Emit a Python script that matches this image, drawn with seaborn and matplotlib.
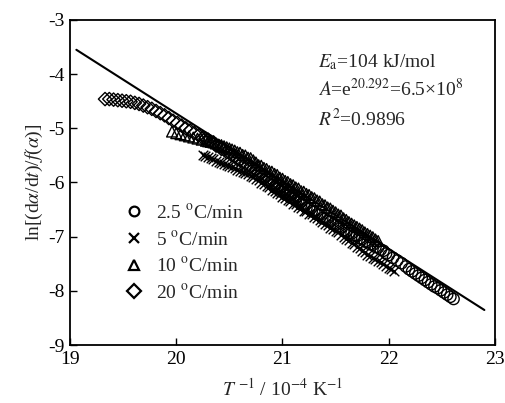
import matplotlib
matplotlib.use("Agg")
import matplotlib.pyplot as plt
import seaborn as sns
import numpy as np
import pandas as pd
from matplotlib.lines import Line2D

# Arrhenius-type fit results (values printed on the chart)
ln_A = 20.292
Ea = 104000.0  # J/mol
R_gas = 8.314
fit_x = [19.06, 22.90]

# 20 oC/min (diamonds)
x_20 = [19.33, 19.37, 19.41, 19.45, 19.49, 19.53, 19.57, 19.61, 19.65, 19.69,
        19.73, 19.77, 19.81, 19.85, 19.89, 19.93, 19.97, 20.01, 20.05, 20.09,
        20.13, 20.17, 20.21, 20.25,
        20.275, 20.300, 20.325, 20.350, 20.375, 20.400, 20.425, 20.450, 20.475, 20.500,
        20.525, 20.550, 20.575, 20.600, 20.625, 20.650, 20.675, 20.700, 20.725, 20.750,
        20.775, 20.800, 20.825, 20.850, 20.875, 20.900, 20.925, 20.950, 20.975, 21.000,
        21.025, 21.050, 21.075, 21.100, 21.125, 21.150, 21.175, 21.200]
y_20 = [-4.46, -4.46, -4.47, -4.48, -4.49, -4.50, -4.51, -4.53, -4.55, -4.58,
        -4.61, -4.64, -4.68, -4.72, -4.76, -4.81, -4.86, -4.90, -4.95, -5.00,
        -5.04, -5.09, -5.13, -5.18,
        -5.19, -5.21, -5.25, -5.26, -5.32, -5.33, -5.38, -5.39, -5.44, -5.45,
        -5.50, -5.51, -5.57, -5.58, -5.63, -5.64, -5.69, -5.70, -5.75, -5.76,
        -5.82, -5.83, -5.88, -5.89, -5.94, -5.95, -6.00, -6.01, -6.07, -6.08,
        -6.13, -6.14, -6.19, -6.20, -6.25, -6.26, -6.32, -6.33]

# 10 oC/min (triangles)
x_10 = [19.96, 20.00, 20.04, 20.08, 20.12, 20.16, 20.20, 20.24, 20.28,
        20.300, 20.325, 20.350, 20.375, 20.400, 20.425, 20.450, 20.475, 20.500, 20.525,
        20.550, 20.575, 20.600, 20.625, 20.650, 20.675, 20.700, 20.725, 20.750, 20.775,
        20.800, 20.825, 20.850, 20.875, 20.900, 20.925, 20.950, 20.975, 21.000, 21.025,
        21.050, 21.075, 21.100, 21.125, 21.150, 21.175, 21.200, 21.225, 21.250, 21.275,
        21.300, 21.325, 21.350, 21.375, 21.400, 21.425, 21.450, 21.475, 21.500, 21.525,
        21.550, 21.575, 21.600, 21.625, 21.650, 21.675, 21.700, 21.725, 21.750, 21.775,
        21.800, 21.825, 21.850, 21.875, 21.900]
y_10 = [-5.06, -5.09, -5.11, -5.13, -5.15, -5.17, -5.19, -5.21, -5.23,
        -5.24, -5.25, -5.26, -5.28, -5.30, -5.31, -5.33, -5.35, -5.37, -5.39,
        -5.41, -5.44, -5.45, -5.49, -5.50, -5.54, -5.55, -5.59, -5.63, -5.68,
        -5.69, -5.73, -5.75, -5.79, -5.80, -5.84, -5.86, -5.91, -5.93, -5.97,
        -5.99, -6.03, -6.05, -6.09, -6.11, -6.16, -6.17, -6.21, -6.23, -6.27,
        -6.29, -6.33, -6.35, -6.40, -6.42, -6.46, -6.48, -6.52, -6.55, -6.59,
        -6.61, -6.66, -6.69, -6.73, -6.76, -6.79, -6.82, -6.85, -6.88, -6.92,
        -6.95, -6.98, -7.01, -7.05, -7.08]

# 5 oC/min (crosses)
x_5 = [20.250, 20.275, 20.300, 20.325, 20.350, 20.375, 20.400, 20.425, 20.450, 20.475,
       20.500, 20.525, 20.550, 20.575, 20.600, 20.625, 20.650, 20.675, 20.700, 20.725,
       20.750, 20.775, 20.800, 20.825, 20.850, 20.875, 20.900, 20.925, 20.950, 20.975,
       21.000, 21.025, 21.050, 21.075, 21.100, 21.125, 21.150, 21.175, 21.200, 21.225,
       21.250, 21.275, 21.300, 21.325, 21.350, 21.375, 21.400, 21.425, 21.450, 21.475,
       21.500, 21.525, 21.550, 21.575, 21.600, 21.625, 21.650, 21.675, 21.700, 21.725,
       21.750, 21.775, 21.800, 21.825, 21.850, 21.875, 21.900, 21.925, 21.950, 21.975,
       22.000, 22.025, 22.050]
y_5 = [-5.49, -5.51, -5.53, -5.55, -5.57, -5.60, -5.62, -5.64, -5.66, -5.68,
       -5.70, -5.72, -5.74, -5.77, -5.79, -5.81, -5.83, -5.85, -5.88, -5.90,
       -5.94, -5.96, -6.01, -6.02, -6.07, -6.09, -6.14, -6.15, -6.20, -6.22,
       -6.27, -6.28, -6.33, -6.34, -6.39, -6.40, -6.45, -6.47, -6.52, -6.53,
       -6.58, -6.59, -6.64, -6.65, -6.70, -6.72, -6.77, -6.79, -6.84, -6.85,
       -6.90, -6.92, -6.97, -7.00, -7.05, -7.07, -7.12, -7.14, -7.19, -7.21,
       -7.26, -7.29, -7.33, -7.35, -7.39, -7.41, -7.45, -7.47, -7.51, -7.54,
       -7.58, -7.60, -7.64]

# 2.5 oC/min (circles)
x_25 = [20.900, 20.925, 20.950, 20.975, 21.000, 21.025, 21.050, 21.075, 21.100, 21.125,
        21.150, 21.175, 21.200, 21.225, 21.250, 21.275, 21.300, 21.325, 21.350, 21.375,
        21.400, 21.425, 21.450, 21.475, 21.500, 21.525, 21.550, 21.575, 21.600, 21.625,
        21.650, 21.675, 21.700, 21.725, 21.750, 21.775, 21.800, 21.825, 21.850, 21.875,
        21.900, 21.925, 21.950, 21.975, 22.000,
        22.04, 22.08, 22.12, 22.16, 22.19, 22.22, 22.25, 22.28, 22.31, 22.34,
        22.37, 22.40, 22.43, 22.46, 22.49, 22.52, 22.55, 22.58, 22.61]
y_25 = [-6.04, -6.09, -6.10, -6.16, -6.17, -6.22, -6.23, -6.28, -6.29, -6.34,
        -6.35, -6.41, -6.42, -6.47, -6.48, -6.53, -6.54, -6.59, -6.60, -6.66,
        -6.67, -6.71, -6.72, -6.77, -6.78, -6.82, -6.83, -6.88, -6.89, -6.93,
        -6.94, -6.98, -6.99, -7.03, -7.04, -7.09, -7.10, -7.14, -7.15, -7.19,
        -7.20, -7.24, -7.26, -7.31, -7.34,
        -7.39, -7.44, -7.49, -7.55, -7.60, -7.64, -7.68, -7.72, -7.76, -7.80,
        -7.84, -7.88, -7.92, -7.95, -7.99, -8.03, -8.07, -8.11, -8.15]

labels = ["2.5 $^{\\rm o}$C/min", "5 $^{\\rm o}$C/min", "10 $^{\\rm o}$C/min", "20 $^{\\rm o}$C/min"]
markers = ["o", "x", "^", "D"]

sns.set_style("ticks")
plt.rcParams["font.family"] = ["Liberation Serif", "DejaVu Serif"]
plt.rcParams["mathtext.fontset"] = "stix"
plt.rcParams["axes.unicode_minus"] = False

fig = plt.figure(figsize=(5.05, 4.03), dpi=100)
ax = fig.add_axes([0.1386, 0.1439, 0.8416, 0.8065])

# fitted line
fit_y = [ln_A - Ea / R_gas * 1e-4 * v for v in fit_x]
sns.lineplot(x=fit_x, y=fit_y, ax=ax, color="black", linewidth=1.5)

series = [(x_20, y_20, "D", 46), (x_10, y_10, "^", 60), (x_5, y_5, "x", 48), (x_25, y_25, "o", 66)]
for xs, ys, m, s in series:
    if m == "x":
        sns.scatterplot(x=xs, y=ys, ax=ax, marker=m, s=s, color="black", linewidth=1.0)
    else:
        sns.scatterplot(x=xs, y=ys, ax=ax, marker=m, s=s, facecolor="none",
                        edgecolor="black", linewidth=1.0)

ax.set_xlim(19, 23)
ax.set_ylim(-9, -3)
ax.set_xticks([19, 20, 21, 22, 23])
ax.set_yticks([-9, -8, -7, -6, -5, -4, -3])
ax.tick_params(direction="in", length=5, width=1, top=False, right=False,
               labelsize=14, pad=4, colors="black")
for sp in ax.spines.values():
    sp.set_visible(True)
    sp.set_linewidth(1.3)
    sp.set_color("black")

ax.set_xlabel("$T$ $^{-1}$ / 10$^{-4}$ K$^{-1}$", fontsize=14, labelpad=7)
ax.set_ylabel("ln[(d$\\alpha$/d$t$)/$f$($\\alpha$)]", fontsize=14, labelpad=2)

ax.text(0.584, 0.855, "$E_{\\rm a}$=104 kJ/mol", transform=ax.transAxes,
        fontsize=14, va="baseline")
ax.text(0.584, 0.766, "$A$=e$^{20.292}$=6.5\u00d710$^{8}$", transform=ax.transAxes,
        fontsize=14, va="baseline")
ax.text(0.584, 0.674, "$R^{2}$=0.9896", transform=ax.transAxes,
        fontsize=14, va="baseline")

handles = [Line2D([], [], marker=m, ls="none", mfc="none", mec="black",
                  color="black", mew=1.6, ms=7) for m in markers]
ax.legend(handles, labels, loc="upper left", bbox_to_anchor=(0.11, 0.46),
          frameon=False, handlelength=1.0, handletextpad=0.6, labelspacing=0.4,
          fontsize=14, borderaxespad=0)

fig.savefig("out.png", dpi=100)
